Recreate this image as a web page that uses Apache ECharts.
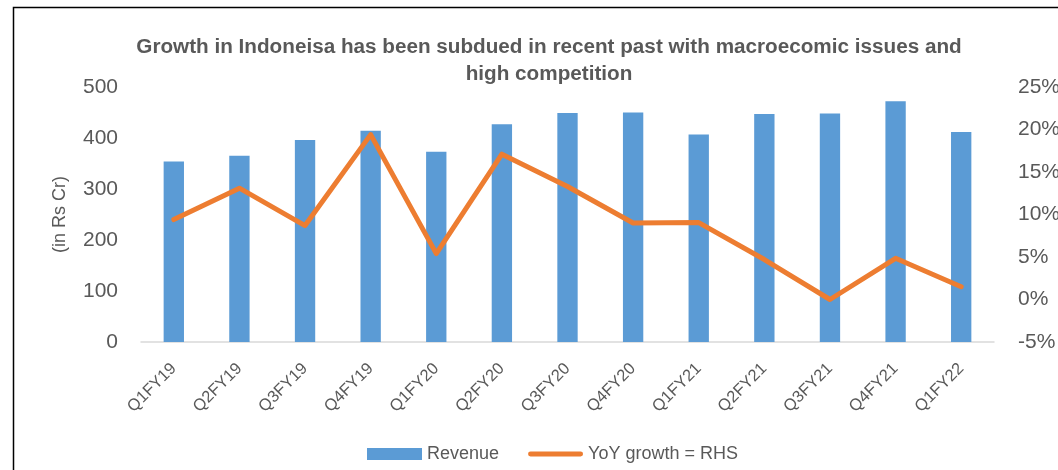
<!DOCTYPE html>
<html>
<head>
<meta charset="utf-8">
<script src="https://cdn.jsdelivr.net/npm/echarts@6/dist/echarts.min.js"></script>
<style>
  html, body { margin: 0; padding: 0; background: #fff; }
  #chart { width: 1058px; height: 470px; }
</style>
</head>
<body>
<div id="chart"></div>
<script>
const quarters = ["Q1FY19", "Q2FY19", "Q3FY19", "Q4FY19", "Q1FY20", "Q2FY20", "Q3FY20",
  "Q4FY20", "Q1FY21", "Q2FY21", "Q3FY21", "Q4FY21", "Q1FY22"];
const revenue = [354, 365, 396, 414, 373, 427, 449, 450, 407, 447, 448, 472, 412];
const yoyGrowth = [9.4, 13.1, 8.7, 19.4, 5.4, 17.1, 13.3, 9.0, 9.05, 4.7, 0.0, 4.85, 1.5];

const textColor = "#595959";
const fontFamily = "'Liberation Sans', sans-serif";

// thick rounded line used as legend icon for the growth line
const lineIcon = "path://M2.5,0H53.5A2.5,2.5,0,0,1,53.5,5H2.5A2.5,2.5,0,0,1,2.5,0Z";

const chart = echarts.init(document.getElementById("chart"));

chart.setOption({
  animation: false,
  textStyle: { fontFamily: fontFamily },
  title: {
    text: "Growth in Indoneisa has been subdued in recent past with macroecomic issues and\nhigh competition",
    left: 544,
    textAlign: "center",
    top: 29,
    textStyle: {
      color: textColor,
      fontSize: 20.7,
      fontWeight: "bold",
      lineHeight: 27,
      fontFamily: fontFamily,
    },
  },
  graphic: [
    {
      type: "rect",
      shape: { x: 13.5, y: 7.5, width: 1100, height: 500 },
      style: { fill: "none", stroke: "#000", lineWidth: 1.5 },
      silent: true,
    },
  ],
  legend: {
    top: 440,
    left: 362,
    itemGap: 29,
    itemWidth: 55,
    itemHeight: 12,
    textStyle: { color: textColor, fontSize: 18, fontFamily: fontFamily },
    data: [
      { name: "Revenue", icon: "rect" },
      { name: "YoY growth = RHS", icon: lineIcon },
    ],
  },
  grid: {
    left: 141,
    right: 64,
    top: 87,
    bottom: 128,
    outerBoundsMode: "none",
  },
  xAxis: {
    type: "category",
    data: quarters,
    axisLine: { lineStyle: { color: "#d9d9d9", width: 1.5 } },
    axisTick: { show: false },
    axisLabel: {
      rotate: 45,
      color: textColor,
      fontSize: 16.5,
      margin: 24,
      interval: 0,
    },
  },
  yAxis: [
    {
      type: "value",
      min: 0,
      max: 500,
      interval: 100,
      name: "(in Rs Cr)",
      nameLocation: "middle",
      nameGap: 72,
      nameTextStyle: { color: textColor, fontSize: 18 },
      axisLine: { show: false },
      axisTick: { show: false },
      splitLine: { show: false },
      axisLabel: { color: textColor, fontSize: 21, margin: 23 },
    },
    {
      type: "value",
      min: -5,
      max: 25,
      interval: 5,
      axisLine: { show: false },
      axisTick: { show: false },
      splitLine: { show: false },
      axisLabel: {
        color: textColor,
        fontSize: 21,
        margin: 24,
        formatter: "{value}%",
      },
    },
  ],
  series: [
    {
      name: "Revenue",
      type: "bar",
      data: revenue,
      barWidth: "31%",
      itemStyle: { color: "#5b9bd5" },
    },
    {
      name: "YoY growth = RHS",
      type: "line",
      yAxisIndex: 1,
      data: yoyGrowth,
      symbol: "none",
      lineStyle: { color: "#ed7d31", width: 5, cap: "round", join: "round" },
      itemStyle: { color: "#ed7d31" },
    },
  ],
});
</script>
</body>
</html>
